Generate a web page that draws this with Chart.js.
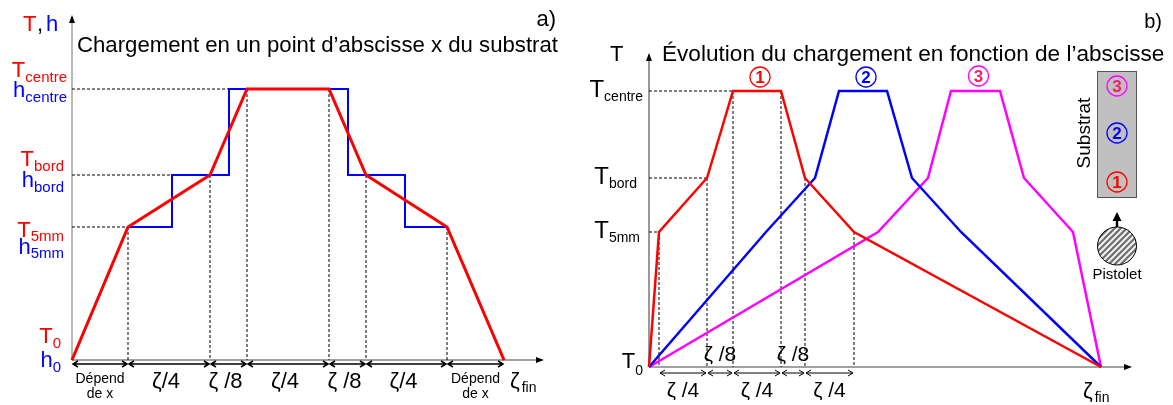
<!DOCTYPE html>
<html>
<head>
<meta charset="utf-8">
<script src="https://cdn.jsdelivr.net/npm/chart.js@4.4.1/dist/chart.umd.min.js"></script>
<style>
html, body { margin: 0; padding: 0; background: #fff; }
#wrap { position: relative; width: 1173px; height: 405px; }
canvas { position: absolute; top: 0; }
</style>
</head>
<body>
<div id="wrap">
  <canvas id="chartA" width="585" height="405" style="left:0"></canvas>
  <canvas id="chartB" width="588" height="405" style="left:585px"></canvas>
</div>
<script>
// --- a) chargement en un point d'abscisse x (unités lues sur la figure)
const aLevels = [0, 133, 185, 271];                 // T0/h0, T5mm, Tbord, Tcentre
const aTx = [0, 56, 138, 175, 257, 294, 375, 432];  // température
const aTy = [0, 133, 185, 271, 271, 185, 133, 0];
const aHx = [0, 56, 100, 100, 157, 157, 276, 276, 333, 333, 375, 432]; // coefficient h (paliers)
const aHy = [0, 133, 133, 185, 185, 271, 271, 185, 185, 133, 133, 0];
const aSegLabels = ["Dépend\nde x", "ζ/4", "ζ /8", "ζ/4", "ζ /8", "ζ/4", "Dépend\nde x"];

// --- b) évolution du chargement en fonction de l'abscisse
const bLevels = [0, 135, 189, 276];
const bX1 = [0, 10, 58, 84, 132, 156, 205, 452];
const bX2 = [0, 117, 166, 190, 238, 263, 312, 452];
const bX3 = [0, 229, 279, 302, 351, 375, 424, 452];
const bY = [0, 135, 189, 276, 276, 189, 135, 0];
const bSegLabels = ["ζ /4", "ζ /8", "ζ /4", "ζ /8", "ζ /4"];

const FONT = '"Liberation Sans", Arial, Helvetica, sans-serif';
const RED = "#ff0000", BLUE = "#0000ff", MAG = "#ff00ff", PINK = "#f0206a";

function pts(xs, ys) { return xs.map((v, i) => ({ x: v, y: ys[i] })); }

function label(ctx, s, x, y, size, color, align, weight) {
  ctx.font = (weight || "") + " " + size + "px " + FONT;
  ctx.fillStyle = color;
  ctx.textAlign = align || "left";
  ctx.textBaseline = "alphabetic";
  ctx.fillText(s, x, y);
}

// lettre + indice, aligné à droite
function subLabel(ctx, main, sub, xRight, yBase, color, mSize, sSize, drop) {
  ctx.font = mSize + "px " + FONT;
  const wm = ctx.measureText(main).width;
  ctx.font = sSize + "px " + FONT;
  const ws = ctx.measureText(sub).width;
  label(ctx, main, xRight - ws - wm, yBase, mSize, color);
  label(ctx, sub, xRight - ws, yBase + drop, sSize, color);
}

function dashed(ctx, x1, y1, x2, y2) {
  ctx.save();
  ctx.strokeStyle = "#000";
  ctx.lineWidth = 1;
  ctx.setLineDash([3, 2]);
  ctx.beginPath();
  ctx.moveTo(x1, y1);
  ctx.lineTo(x2, y2);
  ctx.stroke();
  ctx.restore();
}

function axisArrow(ctx, x1, y1, x2, y2, color, width) {
  ctx.save();
  ctx.strokeStyle = color;
  ctx.lineWidth = width;
  ctx.beginPath();
  ctx.moveTo(x1, y1);
  ctx.lineTo(x2, y2);
  ctx.stroke();
  const ang = Math.atan2(y2 - y1, x2 - x1);
  ctx.fillStyle = "#000";
  ctx.beginPath();
  ctx.moveTo(x2 + Math.cos(ang) * 2, y2 + Math.sin(ang) * 2);
  ctx.lineTo(x2 - Math.cos(ang) * 6 - Math.sin(ang) * 3, y2 - Math.sin(ang) * 6 + Math.cos(ang) * 3);
  ctx.lineTo(x2 - Math.cos(ang) * 6 + Math.sin(ang) * 3, y2 - Math.sin(ang) * 6 - Math.cos(ang) * 3);
  ctx.closePath();
  ctx.fill();
  ctx.restore();
}

// flèche double horizontale
function dimArrow(ctx, x1, x2, y, w) {
  ctx.save();
  ctx.strokeStyle = "#000";
  ctx.lineWidth = w;
  ctx.beginPath();
  ctx.moveTo(x1 + 1, y);
  ctx.lineTo(x2 - 1, y);
  ctx.moveTo(x1 + 6, y - 3); ctx.lineTo(x1 + 1, y); ctx.lineTo(x1 + 6, y + 3);
  ctx.moveTo(x2 - 6, y - 3); ctx.lineTo(x2 - 1, y); ctx.lineTo(x2 - 6, y + 3);
  ctx.stroke();
  ctx.restore();
}

function circled(ctx, n, x, y, ring, digit) {
  ctx.save();
  ctx.strokeStyle = ring;
  ctx.lineWidth = 1.3;
  ctx.beginPath();
  ctx.arc(x, y, 10, 0, Math.PI * 2);
  ctx.stroke();
  ctx.font = "bold 17px " + FONT;
  ctx.fillStyle = digit;
  ctx.textAlign = "center";
  ctx.textBaseline = "middle";
  ctx.fillText(String(n), x, y + 1);
  ctx.restore();
}

function zetaFin(ctx, x, y, size) {
  label(ctx, "ζ", x, y, size, "#000");
  ctx.font = size + "px " + FONT;
  const w = ctx.measureText("ζ").width;
  label(ctx, "fin", x + w + 2, y + 4, 14, "#000");
}

const panelA = {
  id: "panelA",
  beforeDatasetsDraw(chart) {
    const { ctx, scales: { x, y }, chartArea: ca } = chart;
    const x0 = x.getPixelForValue(0), y0 = y.getPixelForValue(0);
    // axes
    axisArrow(ctx, x0, y0, x0, ca.top, "#a8a8a8", 1.6);
    axisArrow(ctx, x0, y0, ca.right, y0, "#444", 1.2);
    // repères pointillés
    dashed(ctx, x0, y.getPixelForValue(aLevels[1]), x.getPixelForValue(aHx[1]), y.getPixelForValue(aLevels[1]));
    dashed(ctx, x0, y.getPixelForValue(aLevels[2]), x.getPixelForValue(aHx[3]), y.getPixelForValue(aLevels[2]));
    dashed(ctx, x0, y.getPixelForValue(aLevels[3]), x.getPixelForValue(aHx[5]), y.getPixelForValue(aLevels[3]));
    for (let i = 1; i < aTx.length - 1; i++) {
      dashed(ctx, x.getPixelForValue(aTx[i]), y.getPixelForValue(aTy[i]), x.getPixelForValue(aTx[i]), y0);
    }
  },
  afterDraw(chart) {
    const { ctx, scales: { x, y } } = chart;
    const x0 = x.getPixelForValue(0), y0 = y.getPixelForValue(0);
    // titre
    label(ctx, "T", 23, 31, 22, RED);
    label(ctx, ",", 37, 31, 22, "#000");
    label(ctx, "h", 46, 31, 22, BLUE);
    label(ctx, "Chargement en un point d’abscisse x du substrat", 77, 52, 22.2, "#000");
    label(ctx, "a)", 556, 26, 22, "#000", "right");
    // niveaux
    const yc = y.getPixelForValue(aLevels[3]), yb = y.getPixelForValue(aLevels[2]);
    const y5 = y.getPixelForValue(aLevels[1]);
    subLabel(ctx, "T", "centre", 67, yc - 12, RED, 22, 15, 5);
    subLabel(ctx, "h", "centre", 67, yc + 8, BLUE, 22, 15, 5);
    subLabel(ctx, "T", "bord", 64, yb - 9, RED, 22, 15, 5);
    subLabel(ctx, "h", "bord", 64, yb + 12, BLUE, 22, 15, 5);
    subLabel(ctx, "T", "5mm", 64, y5 + 10, RED, 22, 15, 4);
    subLabel(ctx, "h", "5mm", 64, y5 + 27, BLUE, 22, 15, 4);
    subLabel(ctx, "T", "0", 61, y0 - 17, RED, 22, 15, 5);
    subLabel(ctx, "h", "0", 61, y0 + 7, BLUE, 22, 15, 5);
    // cotes
    const ya = y0 + 4;
    for (let i = 0; i < aTx.length - 1; i++) {
      const xa = x.getPixelForValue(aTx[i]), xb = x.getPixelForValue(aTx[i + 1]);
      dimArrow(ctx, xa, xb, ya, 1.5);
      const t = aSegLabels[i], cx = (xa + xb) / 2;
      if (t.indexOf("\n") >= 0) {
        const parts = t.split("\n");
        label(ctx, parts[0], cx, ya + 19, 14, "#000", "center");
        label(ctx, parts[1], cx, ya + 34, 14, "#000", "center");
      } else {
        label(ctx, t, cx - 3, ya + 24, 22, "#000", "center");
      }
    }
    zetaFin(ctx, x.getPixelForValue(aTx[aTx.length - 1]) + 6, ya + 24, 22);
  }
};

const panelB = {
  id: "panelB",
  beforeDatasetsDraw(chart) {
    const { ctx, scales: { x, y }, chartArea: ca } = chart;
    const x0 = x.getPixelForValue(0), y0 = y.getPixelForValue(0);
    axisArrow(ctx, x0, y0, x0, ca.top, "#555", 1.2);
    axisArrow(ctx, x0, y0, ca.right, y0, "#444", 1.2);
    dashed(ctx, x0, y.getPixelForValue(bLevels[1]), x.getPixelForValue(bX1[1]), y.getPixelForValue(bLevels[1]));
    dashed(ctx, x0, y.getPixelForValue(bLevels[2]), x.getPixelForValue(bX1[2]), y.getPixelForValue(bLevels[2]));
    dashed(ctx, x0, y.getPixelForValue(bLevels[3]), x.getPixelForValue(bX1[3]), y.getPixelForValue(bLevels[3]));
    for (let i = 1; i < bX1.length - 1; i++) {
      dashed(ctx, x.getPixelForValue(bX1[i]), y.getPixelForValue(bY[i]), x.getPixelForValue(bX1[i]), y0);
    }
  },
  afterDraw(chart) {
    const { ctx, scales: { x, y } } = chart;
    const x0 = x.getPixelForValue(0), y0 = y.getPixelForValue(0);
    const P = v => v - 585; // coordonnées page -> canvas
    label(ctx, "T", P(610), 61, 22, "#000");
    label(ctx, "Évolution du chargement en fonction de l’abscisse", P(662), 61, 22.6, "#000");
    label(ctx, "b)", P(1162), 28, 20, "#000", "right");
    const yc = y.getPixelForValue(bLevels[3]), yb = y.getPixelForValue(bLevels[2]);
    const y5 = y.getPixelForValue(bLevels[1]);
    subLabel(ctx, "T", "centre", P(643), yc + 6, "#000", 24, 14, 4);
    subLabel(ctx, "T", "bord", P(637), yb + 6, "#000", 24, 14, 4);
    subLabel(ctx, "T", "5mm", P(640), y5 + 6, "#000", 24, 14, 4);
    subLabel(ctx, "T", "0", P(643), y0 + 1, "#000", 22, 14, 7);
    // numéros au-dessus des plateaux
    const mid = xs => (x.getPixelForValue(xs[3]) + x.getPixelForValue(xs[4])) / 2 + 3;
    circled(ctx, 1, mid(bX1), yc - 14, RED, RED);
    circled(ctx, 2, mid(bX2), yc - 14, BLUE, BLUE);
    circled(ctx, 3, mid(bX3), yc - 15, MAG, PINK);
    // cotes
    const ya = y0 + 6;
    for (let i = 1; i < 6; i++) {
      const xa = x.getPixelForValue(bX1[i]), xb = x.getPixelForValue(bX1[i + 1]);
      dimArrow(ctx, xa, xb, ya, 1);
      const cx = (xa + xb) / 2;
      if (i % 2 === 1) label(ctx, bSegLabels[i - 1], cx, y0 + 30, 21, "#000", "center");
      else label(ctx, bSegLabels[i - 1], cx, y0 - 6, 21, "#000", "center");
    }
    zetaFin(ctx, x.getPixelForValue(bX1[bX1.length - 1]) - 18, y0 + 31, 22);
    // substrat
    ctx.save();
    ctx.fillStyle = "#c0c0c0";
    ctx.fillRect(P(1097), 71, 39, 126);
    ctx.strokeStyle = "#555";
    ctx.lineWidth = 1;
    ctx.strokeRect(P(1097) + 0.5, 71.5, 39, 126);
    ctx.restore();
    circled(ctx, 3, P(1117), 86, MAG, PINK);
    circled(ctx, 2, P(1117), 133, BLUE, BLUE);
    circled(ctx, 1, P(1117), 182, RED, RED);
    ctx.save();
    ctx.translate(P(1090), 133);
    ctx.rotate(-Math.PI / 2);
    label(ctx, "Substrat", 0, 0, 19, "#000", "center");
    ctx.restore();
    // pistolet
    ctx.save();
    const cx = P(1117), cy = 246;
    ctx.beginPath();
    ctx.ellipse(cx, cy, 19.5, 19, 0, 0, Math.PI * 2);
    ctx.fillStyle = "#f2f2f2";
    ctx.fill();
    ctx.save();
    ctx.clip();
    ctx.strokeStyle = "#6e6e6e";
    ctx.lineWidth = 2.2;
    for (let k = -50; k <= 50; k += 6) {
      ctx.beginPath();
      ctx.moveTo(cx + k - 30, cy + 30);
      ctx.lineTo(cx + k + 30, cy - 30);
      ctx.stroke();
    }
    ctx.restore();
    ctx.strokeStyle = "#000";
    ctx.lineWidth = 1;
    ctx.beginPath();
    ctx.ellipse(cx, cy, 19.5, 19, 0, 0, Math.PI * 2);
    ctx.stroke();
    ctx.lineWidth = 2.5;
    ctx.beginPath();
    ctx.moveTo(cx, cy - 19);
    ctx.lineTo(cx, 220);
    ctx.stroke();
    ctx.fillStyle = "#000";
    ctx.beginPath();
    ctx.moveTo(cx, 212);
    ctx.lineTo(cx - 4.5, 221);
    ctx.lineTo(cx + 4.5, 221);
    ctx.closePath();
    ctx.fill();
    ctx.restore();
    label(ctx, "Pistolet", cx, 279, 15, "#000", "center");
  }
};

function lineSet(data, color, width) {
  return {
    data: data, borderColor: color, borderWidth: width, showLine: true,
    pointRadius: 0, tension: 0, fill: false, clip: false
  };
}

function baseOptions(pad, xMax, yMax) {
  return {
    responsive: false,
    devicePixelRatio: 1,
    animation: false,
    layout: { padding: pad },
    plugins: { legend: { display: false }, tooltip: { enabled: false } },
    scales: {
      x: { type: "linear", min: 0, max: xMax, display: false },
      y: { type: "linear", min: 0, max: yMax, display: false }
    }
  };
}

new Chart(document.getElementById("chartA"), {
  type: "scatter",
  data: {
    datasets: [
      lineSet(pts(aTx, aTy), RED, 3),
      lineSet(pts(aHx, aHy), BLUE, 2)
    ]
  },
  options: baseOptions({ left: 72, right: 43, top: 17, bottom: 45 }, 470, 343),
  plugins: [panelA]
});

new Chart(document.getElementById("chartB"), {
  type: "scatter",
  data: {
    datasets: [
      lineSet(pts(bX1, bY), RED, 2.5),
      lineSet(pts(bX2, bY), BLUE, 2.5),
      lineSet(pts(bX3, bY), MAG, 2.5)
    ]
  },
  options: baseOptions({ left: 64, right: 43, top: 55, bottom: 38 }, 481, 312),
  plugins: [panelB]
});
</script>
</body>
</html>
